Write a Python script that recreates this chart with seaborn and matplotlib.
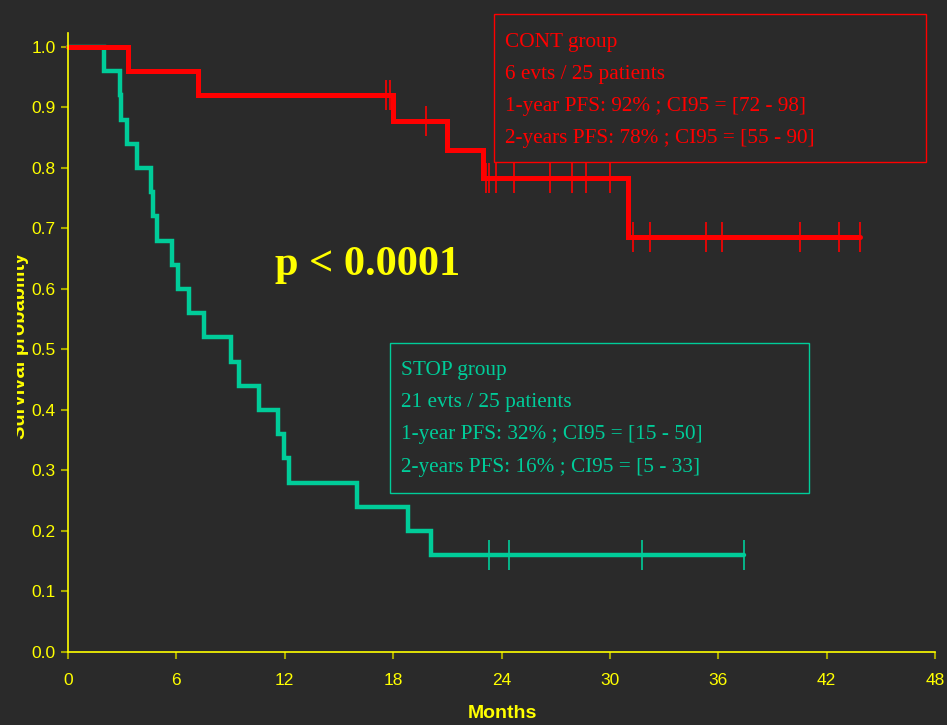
import numpy as np
import pandas as pd
import matplotlib
matplotlib.use("Agg")
import matplotlib.pyplot as plt
import seaborn as sns
from matplotlib.transforms import Bbox, TransformedBbox
from matplotlib.patches import Rectangle

# CONT group: event times (months) and survival after each step
cont_time = [0, 3.3, 7.2, 18.0, 21.0, 23.0, 31.0, 43.85]
cont_surv = [1.0, 0.96, 0.92, 0.877, 0.830, 0.784, 0.686, 0.686]
cont_cens = [17.6, 17.85, 19.8, 23.15, 23.3, 23.7, 24.7, 26.7, 27.9,
             28.7, 30.0, 31.3, 32.2, 35.3, 36.2, 40.5, 42.7, 43.85]

# STOP group
stop_time = [0, 2.0, 2.9, 2.95, 3.25, 3.8, 4.58, 4.73, 4.95, 5.74, 6.1, 6.7,
             7.55, 9.0, 9.47, 10.6, 11.65, 11.96, 12.25, 16.0, 18.8, 20.1, 37.4]
stop_surv = [1.0, 0.96, 0.92, 0.88, 0.84, 0.80, 0.76, 0.72, 0.68, 0.64, 0.60,
             0.56, 0.52, 0.48, 0.44, 0.40, 0.36, 0.32, 0.28, 0.24, 0.20, 0.16, 0.16]
stop_cens = [23.3, 24.4, 31.8, 37.4]

cont_text = ["CONT group", "6 evts / 25 patients",
             "1-year PFS: 92% ; CI95 = [72 - 98]",
             "2-years PFS: 78% ; CI95 = [55 - 90]"]
stop_text = ["STOP group", "21 evts / 25 patients",
             "1-year PFS: 32% ; CI95 = [15 - 50]",
             "2-years PFS: 16% ; CI95 = [5 - 33]"]

bg = "#2a2a2a"
yellow = "#ffff00"
red = "#ff0000"
green = "#00cc99"

sns.set_style("dark", {"axes.facecolor": bg, "figure.facecolor": bg})
plt.rcParams["font.family"] = ["Liberation Sans", "DejaVu Sans"]

df = pd.concat([
    pd.DataFrame({"month": stop_time, "surv": stop_surv, "group": "STOP"}),
    pd.DataFrame({"month": cont_time, "surv": cont_surv, "group": "CONT"}),
])

fig = plt.figure(figsize=(9.47, 7.25), dpi=100)
ax = fig.add_axes([68/947, 1-652/725, (935-68)/947, (652-33)/725])

# STOP drawn first so CONT sits on top
sns.lineplot(data=df, x="month", y="surv", hue="group",
             hue_order=["STOP", "CONT"],
             palette={"CONT": red, "STOP": green}, drawstyle="steps-post",
             estimator=None, sort=False, linewidth=3.2, legend=False, ax=ax)
for line in ax.lines:
    line.set_clip_on(False)
    line.set_solid_joinstyle("miter")
ax.lines[1].set_linewidth(3.6)

# censor marks
for t, s, c, col in [(cont_time, cont_surv, cont_cens, red),
                     (stop_time, stop_surv, stop_cens, green)]:
    idx = np.searchsorted(t, c, side="right") - 1
    ax.plot(c, np.array(s)[idx], "|", color=col, ms=22, mew=1.2, clip_on=False)

ax.set_xlim(0, 48)
ax.set_ylim(0, 1.023)
ax.set_xticks(range(0, 49, 6))
ax.set_yticks(np.arange(0, 1.01, 0.1))
ax.set_yticklabels([f"{v:.1f}" for v in np.arange(0, 1.01, 0.1)])
ax.grid(False)
for sp in ["top", "right"]:
    ax.spines[sp].set_visible(False)
for sp in ["left", "bottom"]:
    ax.spines[sp].set_visible(True)
    ax.spines[sp].set_color(yellow)
    ax.spines[sp].set_linewidth(1.2)
ax.tick_params(axis="both", colors="#a8a800", labelcolor=yellow, length=5,
               width=1.5, direction="out", labelsize=12.5)
ax.tick_params(axis="x", pad=10, bottom=True)
ax.tick_params(axis="y", pad=4, left=True)
ax.set_xlabel("")
ax.set_ylabel("")

fig.text(502/947, 1-714/725, "Months", color=yellow, fontsize=14,
         fontweight="bold", ha="center", va="center")
# y label is cut at the left edge in the original
ylab = fig.text(29/947, 1-346/725, "Survival probability", color=yellow,
                fontsize=14.5, fontweight="bold", rotation=90,
                ha="right", va="center")
ylab.set_clip_box(TransformedBbox(Bbox.from_extents(17/947, 0, 1, 1), fig.transFigure))
ylab.set_clip_on(True)

fig.text(275/947, 1-265/725, "p < 0.0001", color=yellow, fontsize=30.5,
         fontweight="bold", family="Liberation Serif", ha="left", va="center")

# annotation boxes
for lines, col, (x0, y0, x1, y1), ys in [
        (cont_text, red, (494, 14, 926, 162), [39, 71, 103, 135]),
        (stop_text, green, (390, 343, 809, 493), [367, 399, 432, 464])]:
    fig.patches.append(Rectangle((x0/947, 1-y1/725), (x1-x0)/947, (y1-y0)/725,
                                 transform=fig.transFigure, fill=False,
                                 edgecolor=col, linewidth=1))
    for s, y in zip(lines, ys):
        fig.text((x0+11)/947, 1-(y+3)/725, s, color=col, fontsize=15.3,
                 family="Liberation Serif", ha="left", va="center")

fig.savefig("out.png", dpi=100, facecolor=bg)
